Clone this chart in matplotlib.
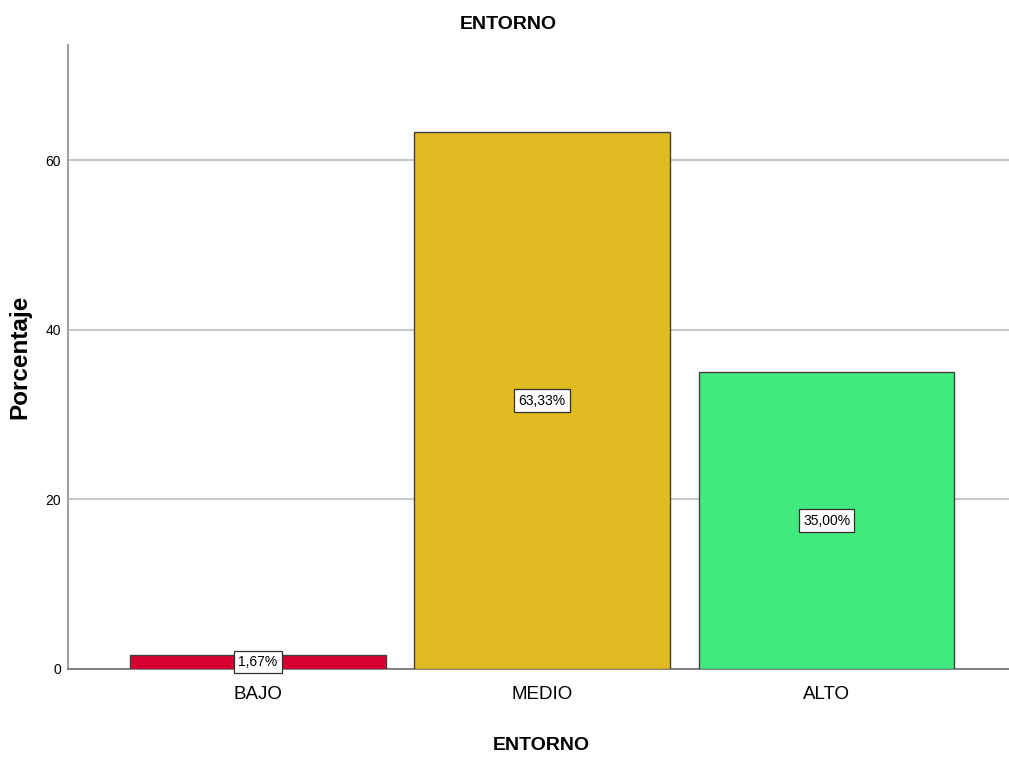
import matplotlib
matplotlib.use('Agg')
from matplotlib import pyplot as plt

# datos
categorias = ['BAJO', 'MEDIO', 'ALTO']
porcentajes = [1.67, 63.33, 35.00]
etiquetas = ['1,67%', '63,33%', '35,00%']
colores = ['#D70032', '#E0BB1F', '#41E97E']
yticks = [0, 20, 40, 60]

plt.rcParams['font.family'] = ['Liberation Sans', 'DejaVu Sans']

fig = plt.figure(figsize=(10.09, 7.59), dpi=100)
ax = fig.add_axes([0.0674, 0.1186, 0.9326, 0.8221])

x = range(len(categorias))
ax.bar(x, porcentajes, width=0.9, color=colores, edgecolor='#404040', linewidth=1.0, zorder=3)

# etiquetas de porcentaje en el centro de cada barra
for i, v in enumerate(porcentajes):
    ax.text(i, v / 2, etiquetas[i], ha='center', va='center', fontsize=10, zorder=4,
            bbox=dict(boxstyle='square,pad=0.3', facecolor='white', edgecolor='#303030', linewidth=0.9))

ax.set_xlim(-0.668, 2.642)
ax.set_ylim(0, 73.6)
ax.set_yticks(yticks)
ax.set_xticks(list(x))
ax.set_xticklabels(categorias, fontsize=13.5)
ax.tick_params(axis='x', length=0, pad=12)
ax.tick_params(axis='y', length=0, pad=5, labelsize=10)
ax.yaxis.grid(True, color='#c8c8c8', linewidth=1.5, zorder=0)

for s in ['top', 'right']:
    ax.spines[s].set_visible(False)
ax.spines['left'].set_color('#a0a0a0')
ax.spines['left'].set_linewidth(1.5)
ax.spines['bottom'].set_color('#707070')
ax.spines['bottom'].set_linewidth(1.2)

ax.set_ylabel('Porcentaje', fontsize=17.5, fontweight='bold', va='center')
ax.yaxis.set_label_coords(-0.051, 0.5)

fig.text(0.5035, 0.968, 'ENTORNO', ha='center', va='center', fontsize=14, fontweight='bold')
fig.text(0.5367, 0.0184, 'ENTORNO', ha='center', va='center', fontsize=14, fontweight='bold')

plt.savefig('out.png', dpi=100)
